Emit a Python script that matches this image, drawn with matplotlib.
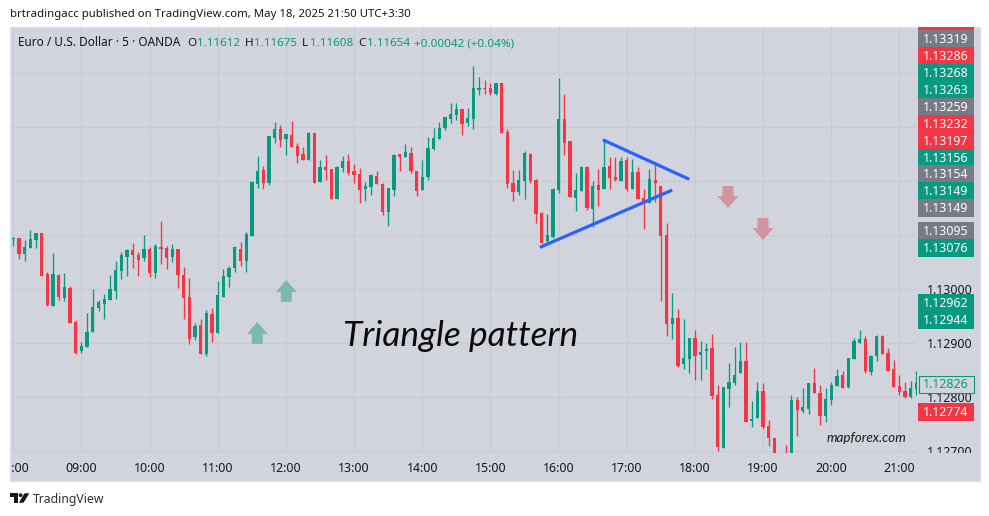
import matplotlib
matplotlib.use("Agg")
import matplotlib.pyplot as plt
from matplotlib.patches import Rectangle, Polygon, Circle
from matplotlib.transforms import Bbox

opens = [1.13093,1.13094,1.13065,1.13076,1.13091,1.13104,1.13028,1.12969,1.13026,1.12983,
1.13002,1.12939,1.12885,1.12893,1.12920,1.12965,1.12972,1.12980,1.12996,1.13033,
1.13059,1.13072,1.13063,1.13057,1.13074,1.13030,1.13078,1.13076,1.13059,1.13074,
1.13026,1.12985,1.12911,1.12933,1.12880,1.12954,1.12919,1.12985,1.13022,1.13039,
1.13074,1.13052,1.13098,1.13194,1.13220,1.13196,1.13279,1.13296,1.13277,1.13285,
1.13264,1.13250,1.13239,1.13289,1.13198,1.13226,1.13222,1.13166,1.13224,1.13237,
1.13218,1.13213,1.13185,1.13189,1.13209,1.13194,1.13142,1.13183,1.13250,1.13244,
1.13252,1.13218,1.13183,1.13207,1.13259,1.13277,1.13298,1.13314,1.13322,1.13333,
1.13307,1.13314,1.13369,1.13372,1.13372,1.13361,1.13381,1.13290,1.13196,1.13179,
1.13200,1.13250,1.13201,1.13141,1.13089,1.13096,1.13183,1.13314,1.13274,1.13168,
1.13181,1.13226,1.13148,1.13192,1.13185,1.13227,1.13207,1.13200,1.13238,1.13185,
1.13216,1.13168,1.13159,1.13201,1.13190,1.13100,1.12935,1.12946,1.12861,1.12870,
1.12909,1.12878,1.12885,1.12891,1.12804,1.12706,1.12815,1.12826,1.12845,1.12867,
1.12756,1.12761,1.12811,1.12746,1.12724,1.12660,1.12680,1.12660,1.12795,1.12774,
1.12778,1.12826,1.12807,1.12765,1.12794,1.12820,1.12841,1.12819,1.12870,1.12900,
1.12907,1.12846,1.12876,1.12913,1.12882,1.12852,1.12820,1.12811,1.12800,1.12815]

highs = [1.13096,1.13094,1.13090,1.13109,1.13104,1.13104,1.13031,1.13067,1.13028,1.13030,
1.13006,1.12943,1.12902,1.12956,1.13000,1.12980,1.12991,1.13026,1.13052,1.13068,
1.13074,1.13085,1.13068,1.13100,1.13078,1.13083,1.13126,1.13080,1.13083,1.13074,
1.13041,1.13020,1.12937,1.12944,1.12961,1.12965,1.13015,1.13037,1.13043,1.13080,
1.13087,1.13106,1.13200,1.13246,1.13227,1.13283,1.13309,1.13303,1.13287,1.13311,
1.13270,1.13263,1.13290,1.13289,1.13239,1.13248,1.13222,1.13227,1.13246,1.13250,
1.13231,1.13224,1.13198,1.13213,1.13218,1.13196,1.13187,1.13250,1.13250,1.13268,
1.13263,1.13218,1.13238,1.13281,1.13298,1.13309,1.13318,1.13344,1.13344,1.13333,
1.13335,1.13413,1.13392,1.13387,1.13381,1.13381,1.13381,1.13296,1.13220,1.13220,
1.13255,1.13251,1.13203,1.13142,1.13139,1.13187,1.13390,1.13361,1.13274,1.13214,
1.13227,1.13227,1.13200,1.13222,1.13276,1.13244,1.13244,1.13244,1.13244,1.13240,
1.13225,1.13185,1.13222,1.13229,1.13190,1.13122,1.12993,1.12963,1.12944,1.12909,
1.12924,1.12904,1.12900,1.12917,1.12822,1.12818,1.12863,1.12893,1.12902,1.12902,
1.12793,1.12828,1.12826,1.12757,1.12724,1.12660,1.12711,1.12804,1.12800,1.12817,
1.12826,1.12854,1.12822,1.12817,1.12828,1.12852,1.12848,1.12872,1.12909,1.12924,
1.12913,1.12878,1.12915,1.12915,1.12891,1.12869,1.12841,1.12828,1.12830,1.12848]

lows = [1.13080,1.13056,1.13052,1.13076,1.13076,1.13024,1.12969,1.12969,1.12980,1.12978,
1.12937,1.12880,1.12882,1.12893,1.12920,1.12959,1.12944,1.12980,1.12981,1.13019,
1.13024,1.13039,1.13024,1.13052,1.13022,1.13020,1.13046,1.13037,1.13050,1.13002,
1.12944,1.12898,1.12906,1.12880,1.12876,1.12902,1.12919,1.12985,1.13004,1.13031,
1.13043,1.13031,1.13098,1.13187,1.13185,1.13192,1.13270,1.13263,1.13248,1.13263,
1.13233,1.13239,1.13239,1.13196,1.13198,1.13202,1.13166,1.13166,1.13216,1.13211,
1.13196,1.13159,1.13163,1.13174,1.13194,1.13137,1.13116,1.13172,1.13218,1.13244,
1.13214,1.13172,1.13183,1.13201,1.13257,1.13277,1.13294,1.13307,1.13313,1.13285,
1.13301,1.13296,1.13359,1.13361,1.13359,1.13359,1.13288,1.13187,1.13163,1.13174,
1.13166,1.13196,1.13122,1.13085,1.13085,1.13094,1.13177,1.13248,1.13170,1.13144,
1.13181,1.13146,1.13114,1.13153,1.13185,1.13185,1.13200,1.13200,1.13181,1.13185,
1.13166,1.13111,1.13159,1.13161,1.12978,1.12913,1.12907,1.12855,1.12852,1.12845,
1.12832,1.12832,1.12852,1.12796,1.12700,1.12706,1.12782,1.12822,1.12845,1.12754,
1.12744,1.12761,1.12741,1.12709,1.12670,1.12655,1.12660,1.12660,1.12728,1.12770,
1.12768,1.12807,1.12748,1.12754,1.12785,1.12820,1.12817,1.12817,1.12870,1.12900,
1.12844,1.12841,1.12867,1.12880,1.12848,1.12819,1.12804,1.12798,1.12798,1.12804]

closes = [1.13094,1.13064,1.13078,1.13093,1.13104,1.13024,1.12970,1.13028,1.12985,1.13004,
1.12937,1.12881,1.12894,1.12920,1.12967,1.12976,1.12981,1.13000,1.13035,1.13063,
1.13072,1.13063,1.13054,1.13074,1.13030,1.13080,1.13074,1.13057,1.13074,1.13026,
1.12983,1.12907,1.12931,1.12880,1.12956,1.12919,1.12989,1.13024,1.13039,1.13078,
1.13052,1.13102,1.13198,1.13218,1.13196,1.13283,1.13296,1.13276,1.13287,1.13263,
1.13246,1.13239,1.13289,1.13196,1.13226,1.13220,1.13166,1.13226,1.13237,1.13214,
1.13211,1.13183,1.13190,1.13211,1.13194,1.13142,1.13187,1.13248,1.13244,1.13253,
1.13218,1.13181,1.13207,1.13261,1.13279,1.13298,1.13318,1.13324,1.13333,1.13305,
1.13316,1.13372,1.13371,1.13370,1.13363,1.13381,1.13288,1.13194,1.13179,1.13201,
1.13251,1.13200,1.13139,1.13085,1.13100,1.13185,1.13314,1.13270,1.13170,1.13183,
1.13226,1.13150,1.13190,1.13183,1.13226,1.13205,1.13201,1.13237,1.13185,1.13216,
1.13166,1.13157,1.13203,1.13196,1.13098,1.12935,1.12946,1.12857,1.12872,1.12909,
1.12876,1.12883,1.12889,1.12802,1.12707,1.12818,1.12828,1.12841,1.12867,1.12754,
1.12759,1.12811,1.12744,1.12724,1.12670,1.12655,1.12660,1.12795,1.12776,1.12782,
1.12826,1.12807,1.12765,1.12796,1.12822,1.12839,1.12817,1.12872,1.12904,1.12907,
1.12848,1.12876,1.12913,1.12880,1.12848,1.12819,1.12809,1.12800,1.12817,1.12826]

hour_labels = ["08:00","09:00","10:00","11:00","12:00","13:00","14:00","15:00",
               "16:00","17:00","18:00","19:00","20:00","21:00"]
price_ticks = [1.127,1.128,1.129,1.130,1.131,1.132,1.133,1.134]
price_labels = ["1.12700","1.12800","1.12900","1.13000","","","",""]

badge_labels = ["1.13319","1.13286","1.13268","1.13263","1.13259","1.13232","1.13197",
                "1.13156","1.13154","1.13149","1.13149","1.13095","1.13076",
                "1.12962","1.12944","1.12774"]
badge_kinds = ["gray","red","green","green","gray","red","red","green","gray","green",
               "gray","gray","green","green","green","red"]
badge_centres = [38.5,55.5,72.5,89.5,106.5,123.5,140.5,157.5,174,191,208,231,248,303,320,412]

last_label = "1.12826"
last_centre = 384

upper_line_x = [103.8, 119.0]
upper_line_p = [1.13276, 1.13203]
lower_line_x = [92.7, 116.0]
lower_line_p = [1.13077, 1.13183]

up_arrows = [(257.3, 322), (286.3, 280)]
down_arrows = [(728, 208), (763, 240)]

GREEN = "#089981"
RED = "#F23645"
GRAY = "#787B86"
PANEL = "#D1D4DC"
GRID = "#C8CBD4"
INK = "#131722"
BLUE = "#2962FF"
COLORS = {"green": GREEN, "red": RED, "gray": GRAY}
UI = ["Noto Sans", "DejaVu Sans"]

W, H = 989, 516
fig = plt.figure(figsize=(W / 100, H / 100), dpi=100, facecolor="white")

def px_axes(x0, y0, x1, y1, z):
    return fig.add_axes([x0 / W, 1 - y1 / H, (x1 - x0) / W, (y1 - y0) / H], zorder=z)

# background panel
bg = px_axes(0, 0, W, H, 0)
bg.set_xlim(0, W); bg.set_ylim(H, 0); bg.axis("off")
bg.add_patch(Rectangle((9.5, 26.5), 970, 454, fc=PANEL, ec="#DFE1E7", lw=1))

# price chart
ax = px_axes(11, 27, 917, 452.5, 1)
ax.patch.set_alpha(0)
ax.set_xlim(-0.405, 159.1)
ax.set_ylim(1.126975, 1.134847)
for s in ax.spines.values():
    s.set_visible(False)

idx = list(range(len(opens)))
cols = [GREEN if c >= o else RED for o, c in zip(opens, closes)]
ax.vlines(idx, lows, highs, colors=cols, lw=0.95, zorder=3)
ax.bar(idx, [abs(c - o) for o, c in zip(opens, closes)],
       bottom=[min(o, c) for o, c in zip(opens, closes)],
       width=0.58, color=cols, linewidth=0, zorder=4)

ax.plot(upper_line_x, upper_line_p, color=BLUE, lw=2.3, zorder=5, solid_capstyle="butt")
ax.plot(lower_line_x, lower_line_p, color=BLUE, lw=2.3, zorder=5, solid_capstyle="butt")

ax.set_xticks(list(range(0, 12 * len(hour_labels), 12)))
ax.set_xticklabels(hour_labels, fontsize=8.9, color=INK, family=UI)
ax.set_yticks(price_ticks)
ax.set_yticklabels(price_labels, fontsize=8.9, color=INK, family=UI)
ax.yaxis.tick_right()
ax.tick_params(axis="x", length=0, pad=7)
ax.tick_params(axis="y", length=0, pad=7.2)
ax.grid(True, color=GRID, lw=0.9, zorder=0)
ax.set_axisbelow(True)

x_clip = Bbox([[10.5, 0], [980, H]])
for lab in ax.get_xticklabels():
    lab.set_clip_on(True); lab.set_clip_box(x_clip)
y_clip = Bbox([[917, H - 452.5], [980, H - 27]])
for lab in ax.get_yticklabels():
    lab.set_clip_on(True); lab.set_clip_box(y_clip)

# overlay in pixel coordinates
ov = px_axes(0, 0, W, H, 2)
ov.patch.set_alpha(0)
ov.set_xlim(0, W); ov.set_ylim(H, 0); ov.axis("off")

# price scale badges
ov.add_patch(Rectangle((918, 27), 55.5, 2.5, fc=RED, ec="none"))
for lab, kind, yc in zip(badge_labels, badge_kinds, badge_centres):
    ov.add_patch(Rectangle((918, yc - 8.7), 55.5, 17.4, fc=COLORS[kind], ec="none"))
    ov.text(945.7, yc + 0.8, lab, color="white", fontsize=8.9, ha="center", va="center",
            family=UI, fontweight="medium")
ov.add_patch(Rectangle((918.5, last_centre - 8), 55, 16.5, fc=PANEL, ec=GREEN, lw=0.8))
ov.text(945.7, last_centre + 0.8, last_label, color=GREEN, fontsize=8.9, ha="center", va="center", family=UI)

# arrows
def arrow(xc, ytip, sign, col):
    hw, sw, hh, total = 10.4, 5.5, 12, 22
    pts = [(xc, ytip), (xc + hw, ytip + sign * hh), (xc + sw, ytip + sign * hh),
           (xc + sw, ytip + sign * total), (xc - sw, ytip + sign * total),
           (xc - sw, ytip + sign * hh), (xc - hw, ytip + sign * hh)]
    ov.add_patch(Polygon(pts, closed=True, fc=col, ec="none"))

for xc, yt in up_arrows:
    arrow(xc, yt, 1, "#7AB9B1")
for xc, yt in down_arrows:
    arrow(xc, yt, -1, "#D0969F")

# annotations
ov.text(461, 335.5, "Triangle pattern", fontsize=25.4, style="italic", color="#0B0B0B",
        ha="center", va="center", family=["Lato", "DejaVu Sans"])
ov.text(866, 437.5, "mapforex.com", fontsize=9.6, style="italic", color="#1A1A1A",
        ha="center", va="center", family=["Lato", "DejaVu Sans"])

# top text
ov.text(10, 15, "brtradingacc published on TradingView.com, May 18, 2025 21:50 UTC+3:30",
        fontsize=8.2, color=INK, ha="left", va="center", family=UI)
ov.text(18, 46, "Euro / U.S. Dollar \u00b7 5 \u00b7 OANDA", fontsize=8.5, color=INK,
        ha="left", va="baseline", family=UI)
for x, s, c in [(187, "O", INK), (197, "1.11612", GREEN), (245, "H", INK), (254, "1.11675", GREEN),
                (302, "L", INK), (310, "1.11608", GREEN), (358, "C", INK), (367, "1.11654", GREEN),
                (414, "+0.00042 (+0.04%)", GREEN)]:
    ov.text(x, 46, s, fontsize=8.4, color=c, ha="left", va="baseline", family=UI)

# footer logo
ov.add_patch(Polygon([(10, 493.3), (18, 493.3), (18, 502.7), (14, 502.7), (14, 497), (10, 497)], fc=INK, ec="none"))
ov.add_patch(Circle((20.6, 495.2), 1.9, fc=INK, ec="none"))
ov.add_patch(Polygon([(24.5, 493.3), (29.3, 493.3), (23.6, 502.7), (18.8, 502.7)], fc=INK, ec="none"))
ov.text(33, 499, "TradingView", fontsize=8.8, color="#2A2E39", ha="left", va="center", family=UI)

fig.savefig("out.png", dpi=100, facecolor="white")
